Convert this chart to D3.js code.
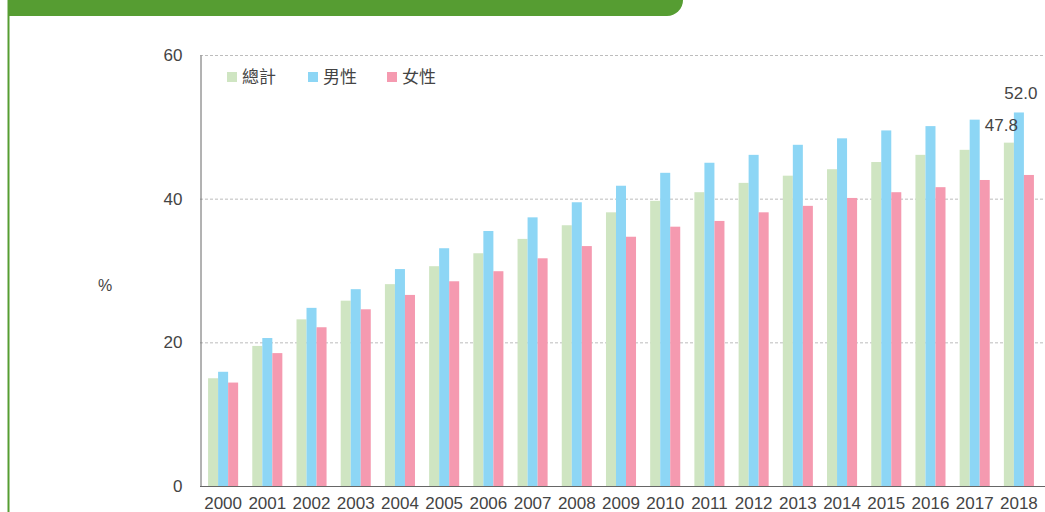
<!DOCTYPE html>
<html>
<head>
<meta charset="utf-8">
<script src="https://cdn.jsdelivr.net/npm/d3@7"></script>
<style>
    body { margin: 0; background: #fff; }
    svg { display: block; }
</style>
</head>
<body>
<script>
var years = ["2000", "2001", "2002", "2003", "2004", "2005", "2006", "2007", "2008", "2009",
             "2010", "2011", "2012", "2013", "2014", "2015", "2016", "2017", "2018"];
var seriesNames = ["總計", "男性", "女性"];
var total  = [15.0, 19.5, 23.2, 25.8, 28.1, 30.6, 32.4, 34.4, 36.3, 38.1,
              39.7, 40.9, 42.2, 43.2, 44.1, 45.1, 46.1, 46.8, 47.8];
var male   = [15.9, 20.6, 24.8, 27.4, 30.2, 33.1, 35.5, 37.4, 39.5, 41.8,
              43.6, 45.0, 46.1, 47.5, 48.4, 49.5, 50.1, 51.0, 52.0];
var female = [14.4, 18.5, 22.1, 24.6, 26.6, 28.5, 29.9, 31.7, 33.4, 34.7,
              36.1, 36.9, 38.1, 39.0, 40.1, 40.9, 41.6, 42.6, 43.3];
var yTicks = [0, 20, 40, 60];

(function()
{
    var w = 1045, h = 512;
    var colors = ["#cfe5c2", "#8dd6f5", "#f59ab0"];
    var green = "#569d32";
    var font = "'Liberation Sans', Arial, sans-serif";

    var svg = d3.select("body").append("svg")
        .attr("width", w)
        .attr("height", h);

    // header banner + left frame line
    svg.append("path")
        .attr("d", "M8,0 H683 V0 A16,16 0 0 1 667,16 H8 Z")
        .attr("fill", green);
    svg.append("rect")
        .attr("x", 7.5).attr("y", 0)
        .attr("width", 2).attr("height", h)
        .attr("fill", green);

    var x0 = d3.scaleBand()
        .domain(years)
        .range([201, 1041])
        .paddingInner(0.32)
        .paddingOuter(0.16);
    var x1 = d3.scaleBand()
        .domain([0, 1, 2])
        .range([0, x0.bandwidth()]);
    var y = d3.scaleLinear()
        .domain([0, 60])
        .range([486, 55]);

    // grid
    svg.selectAll("line.grid")
        .data(yTicks.filter(function(d) { return d > 0; }))
        .enter()
        .append("line")
        .attr("class", "grid")
        .attr("x1", 200).attr("x2", w)
        .attr("y1", function(d) { return y(d) + 0.5; })
        .attr("y2", function(d) { return y(d) + 0.5; })
        .attr("stroke", "#bdbdbd")
        .attr("stroke-dasharray", "3,2");

    var rows = years.map(function(yr, i) {
        return { year: yr, vals: [total[i], male[i], female[i]] };
    });

    var groups = svg.selectAll("g.year")
        .data(rows)
        .enter()
        .append("g")
        .attr("transform", function(d) { return "translate(" + x0(d.year) + ",0)"; });

    groups.selectAll("rect")
        .data(function(d) { return d.vals; })
        .enter()
        .append("rect")
        .attr("x", function(d, i) { return x1(i); })
        .attr("y", function(d) { return y(d); })
        .attr("width", x1.bandwidth())
        .attr("height", function(d) { return y(0) - y(d); })
        .attr("fill", function(d, i) { return colors[i]; });

    // axes
    var yAxis = svg.append("g")
        .attr("transform", "translate(200.5,0)")
        .call(d3.axisLeft(y).tickValues(yTicks).tickSize(0).tickPadding(18));
    yAxis.select(".domain").attr("stroke", "#666");
    yAxis.selectAll("text")
        .attr("font-family", font)
        .attr("font-size", "17px")
        .attr("fill", "#444");

    var xAxis = svg.append("g")
        .attr("transform", "translate(0," + (y(0) + 0.5) + ")")
        .call(d3.axisBottom(x0).tickSize(0).tickPadding(10));
    xAxis.select(".domain").attr("stroke", "#666").attr("d", "M200,0H" + w);
    xAxis.selectAll("text")
        .attr("font-family", font)
        .attr("font-size", "17px")
        .attr("fill", "#444");

    svg.append("text")
        .attr("x", 105).attr("y", 291)
        .attr("text-anchor", "middle")
        .attr("font-family", font)
        .attr("font-size", "16px")
        .attr("fill", "#444")
        .text("%");

    // legend
    var legendX = [227, 308, 387];
    var legend = svg.selectAll("g.legend")
        .data(seriesNames)
        .enter()
        .append("g")
        .attr("transform", function(d, i) { return "translate(" + legendX[i] + ",72)"; });
    legend.append("rect")
        .attr("width", 10).attr("height", 10)
        .attr("fill", function(d, i) { return colors[i]; });
    legend.append("text")
        .attr("x", 15).attr("y", 11)
        .attr("font-family", "'Noto Sans CJK TC', sans-serif")
        .attr("font-size", "17px")
        .attr("fill", "#444")
        .text(function(d) { return d; });

    // value labels for the last year
    var last = years.length - 1;
    svg.append("text")
        .attr("x", x0(years[last]) + x1(1) + x1.bandwidth() / 2 + 2)
        .attr("y", y(male[last]) - 13)
        .attr("text-anchor", "middle")
        .attr("font-family", font)
        .attr("font-size", "17px")
        .attr("fill", "#444")
        .text(male[last].toFixed(1));
    svg.append("text")
        .attr("x", x0(years[last]) + x1(1) + 4)
        .attr("y", y(total[last]) - 12)
        .attr("text-anchor", "end")
        .attr("font-family", font)
        .attr("font-size", "17px")
        .attr("fill", "#444")
        .text(total[last].toFixed(1));
})();
</script>
</body>
</html>
